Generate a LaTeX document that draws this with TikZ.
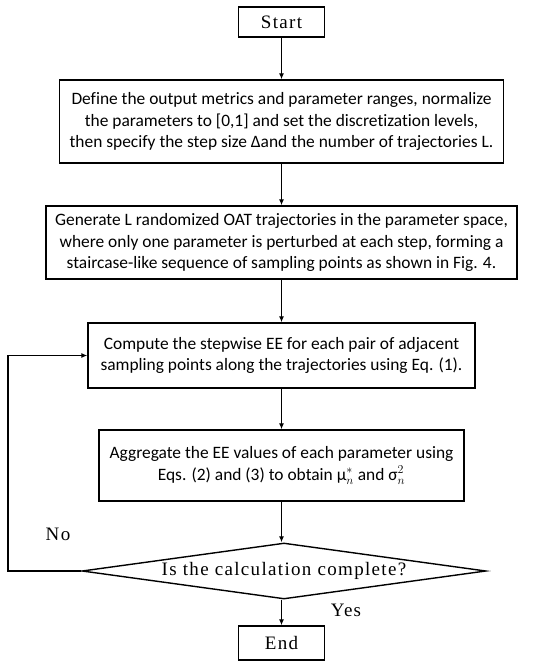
\documentclass[tikz,border=0pt]{standalone}
\usepackage{fontspec}
\setmainfont{Carlito}[Ligatures=NoCommon]
\newfontfamily\cjkserif{Liberation Serif}[LetterSpace=7]
\usetikzlibrary{arrows.meta,shapes.geometric}
\begin{document}
\begin{tikzpicture}[x=1pt,y=-1pt,
  proc/.style={draw,line width=1.4pt,align=center,inner sep=0pt,
    font=\fontsize{17.4}{21.7}\selectfont},
  term/.style={draw,line width=1.4pt,inner sep=0pt,font=\cjkserif\fontsize{19}{22}\selectfont},
  lbl/.style={inner sep=0pt,font=\cjkserif\fontsize{19}{22}\selectfont},
  arr/.style={line width=1.4pt,-{Latex[length=6pt,width=5pt]}}]
\useasboundingbox (0,0) rectangle (550,668);
\node[term,minimum width=86pt,minimum height=30pt] (start) at (281.5,22) {Start};
\node[proc,minimum width=444pt,minimum height=83pt] (b1) at (281.5,121.5)
  {Define the output metrics and parameter ranges, normalize\\
   the parameters to [0,1] and set the discretization levels,\\
   then specify the step size Δand the number of trajectories L.};
\node[proc,minimum width=471pt,minimum height=73pt] (b2) at (281.5,242.5)
  {Generate L randomized OAT trajectories in the parameter space,\\
   where only one parameter is perturbed at each step, forming a\\
   staircase-like sequence of sampling points as shown in Fig. 4.};
\node[proc,minimum width=387pt,minimum height=65pt] (b3) at (281.5,355.5)
  {Compute the stepwise EE for each pair of adjacent\\
   sampling points along the trajectories using Eq. (1).};
\node[proc,minimum width=365pt,minimum height=71pt] (b4) at (281.5,465.5)
  {Aggregate the EE values of each parameter using\\
   Eqs. (2) and (3) to obtain μ$^{*}_{n}$ and σ$^{2}_{n}$};
\node[diamond,draw,line width=1.4pt,inner sep=0pt,aspect=7,
  minimum width=404pt,minimum height=56pt,
  font=\cjkserif\fontsize{19}{22}\selectfont] (dec) at (284,571)
  {Is the calculation complete?};
\node[term,minimum width=86pt,minimum height=34pt] (end) at (281.5,643) {End};
\node[lbl] (no) at (58,534) {No};
\node[lbl] (yes) at (346,610) {Yes};
\coordinate (lp) at (8,571);
\draw[arr] (start.south) -- (b1.north);
\draw[arr] (b1.south) -- (b2.north);
\draw[arr] (b2.south) -- (b3.north);
\draw[arr] (b3.south) -- (b4.north);
\draw[arr] (b4.south) -- (b4.south |- dec.north);
\draw[arr] (b4.south |- dec.south) -- (end.north);
\draw[arr] (dec.west) -- (lp) |- (b3.west);
\end{tikzpicture}
\end{document}
